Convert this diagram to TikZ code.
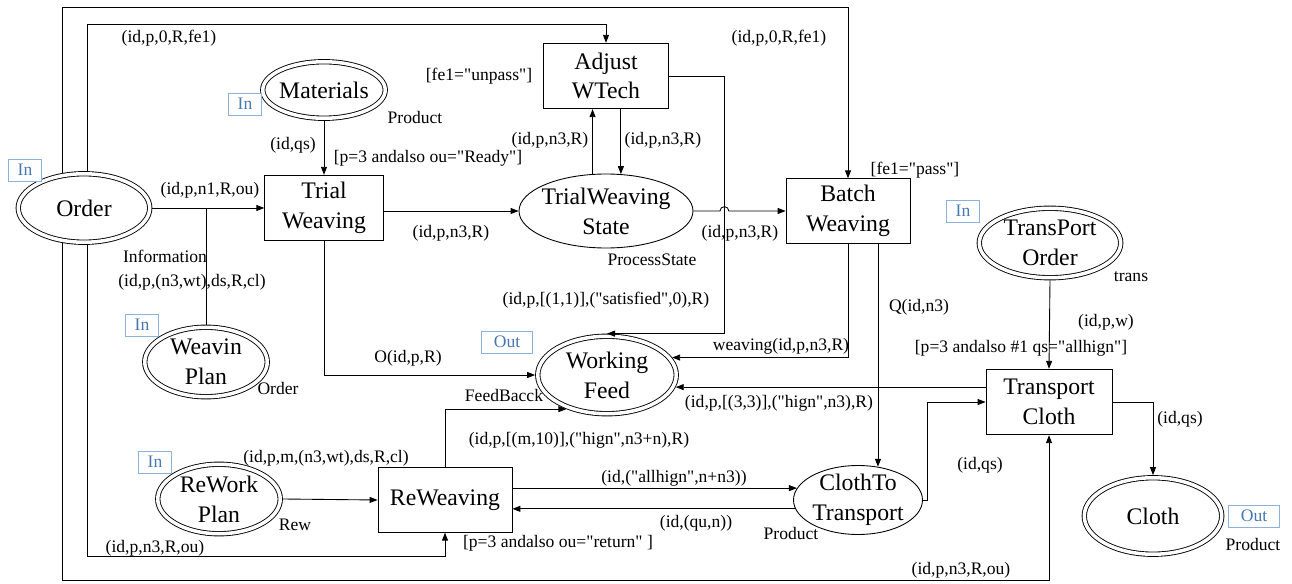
\documentclass[tikz,border=0pt]{standalone}
\usepackage{fontspec}
\setmainfont{Liberation Serif}[Ligatures=TeXOff]
\usepackage{tikz}
\usetikzlibrary{shapes.geometric,arrows.meta,calc}
\definecolor{portedge}{RGB}{140,178,220}
\definecolor{porttext}{RGB}{70,120,178}

\begin{document}
\begin{tikzpicture}[x=0.02cm,y=-0.02cm,line width=0.5pt,
		arc/.style={-{Triangle[length=1.6mm,width=1.2mm]}},
		transbox/.style={draw,rectangle,align=center,font=\fontsize{13.5}{17}\selectfont},
		placenode/.style={draw,ellipse,align=center,inner sep=-6pt,font=\fontsize{13.5}{17}\selectfont},
		portplace/.style={placenode,double,double distance=2pt,outer sep=1.5pt},
		portbox/.style={draw=portedge,text=porttext,fill=white,inner sep=0pt,minimum height=0.44cm,font=\fontsize{10}{12}\selectfont},
		lbl/.style={inner sep=0pt,font=\fontsize{10}{12}\selectfont}]
		\useasboundingbox (0,0) rectangle (1292,584);

		\node[portplace,minimum width=2.63cm,minimum height=1.37cm] (order) at (84,208) {Order};
		\node[portplace,minimum width=2.45cm,minimum height=1.13cm] (materials) at (324,90) {Materials};
		\node[portplace,minimum width=2.45cm,minimum height=1.39cm] (wplan) at (206,362) {Weavin\\Plan};
		\node[portplace,minimum width=2.45cm,minimum height=1.39cm] (rework) at (219,499) {ReWork\\Plan};
		\node[portplace,minimum width=2.77cm,minimum height=1.55cm] (wfeed) at (607,375) {Working\\Feed};
		\node[portplace,minimum width=2.83cm,minimum height=1.39cm] (tporder) at (1050,243) {TransPort\\Order};
		\node[portplace,minimum width=2.75cm,minimum height=1.53cm] (cloth) at (1153,516) {Cloth};
		\node[placenode,minimum width=3.48cm,minimum height=1.48cm] (twstate) at (606,211) {TrialWeaving\\State};
		\node[placenode,minimum width=2.58cm,minimum height=1.38cm] (clothto) at (858,500) {ClothTo\\Transport};

		\node[transbox,minimum width=2.37cm,minimum height=1.31cm] (trialw) at (324,208) {Trial\\Weaving};
		\node[transbox,minimum width=2.5cm,minimum height=1.31cm] (adjust) at (606,76) {Adjust\\WTech};
		\node[transbox,minimum width=2.48cm,minimum height=1.29cm] (batch) at (848,211) {Batch\\Weaving};
		\node[transbox,minimum width=2.52cm,minimum height=1.31cm] (tcloth) at (1049,402) {Transport\\Cloth};
		\node[transbox,minimum width=2.68cm,minimum height=1.29cm] (reweav) at (445,500) {ReWeaving};

		\foreach \n/\x/\y in {a/25/170, b/245/104, c/142/325, d/155/462, e/963/211}
			\node[portbox,minimum width=0.66cm] (in\n) at (\x,\y) {In};
		\foreach \n/\x/\y in {a/507/342, b/1254/516}
			\node[portbox,minimum width=1.02cm] (out\n) at (\x,\y) {Out};

		\coordinate (outtop) at (0,7);
		\coordinate (intop) at (0,24);
		\coordinate (inbot) at (0,556);
		\coordinate (outbot) at (0,580);

		\draw[arc] (order.121) -- (order.121 |- outtop) -| (batch.north);
		\draw[arc] (order.84) -- (order.84 |- intop) -| (adjust.north);
		\draw[arc] (order.239) -- (order.239 |- outbot) -| (tcloth.south);
		\draw[arc] (order.276) -- (order.276 |- inbot) -| (reweav.south);

		\draw[arc] (order.east) -- (trialw.west);
		\draw (wplan.north) -- (wplan.north |- order.east);
		\draw[arc] (materials.south) -- (trialw.north);
		\draw[arc] (trialw.east |- twstate.west) -- (twstate.west);
		\draw[arc] (twstate.110) -- (twstate.110 |- adjust.south);
		\draw[arc] (twstate.68 |- adjust.south) -- (twstate.68);
		\draw[arc] (adjust.east) -| ($(wfeed.north)+(117,0)$) -- (wfeed.north);
		\draw[arc] (twstate.east) -- ($(twstate.east -| wfeed.north)+(113,0)$) arc[start angle=180,end angle=0,radius=2.5pt] -- (batch.west |- twstate.east);
		\draw[arc] (trialw.south) |- (wfeed.west);
		\draw[arc] (batch.south) |- (wfeed.15);
		\draw[arc] (batch.south -| clothto.59) -- (clothto.59);
		\draw[arc] (tcloth.west |- wfeed.-10) -- (wfeed.-10);
		\draw[arc] (tporder.south) -- (tcloth.north);
		\draw[arc] (tcloth.east) -| (cloth.north);
		\draw[arc] (clothto.east) -- ++(5,0) |- (tcloth.west);
		\draw[arc] (reweav.east |- clothto.169) -- (clothto.169);
		\draw[arc] (clothto.188) -- (reweav.east |- clothto.188);
		\draw[arc] (rework.east) -- (reweav.west);
		\draw[arc] (reweav.north) |- (wfeed.220);

		\node[lbl] (l1) at (169,38) {(id,p,0,R,fe1)};
		\node[lbl] (l2) at (779,38) {(id,p,0,R,fe1)};
		\node[lbl] (l3) at (479,76) {[fe1="unpass"]};
		\node[lbl] (l4) at (415,117) {Product};
		\node[lbl] (l5) at (293,145) {(id,qs)};
		\node[lbl] (l6) at (428,158) {[p=3 andalso ou="Ready"]};
		\node[lbl] (l7) at (550,140) {(id,p,n3,R)};
		\node[lbl] (l8) at (663,140) {(id,p,n3,R)};
		\node[lbl] (l9) at (915,170) {[fe1="pass"]};
		\node[lbl] (l10) at (210,190) {(id,p,n1,R,ou)};
		\node[lbl] (l11) at (165,256) {Information};
		\node[lbl] (l12) at (192,282) {(id,p,(n3,wt),ds,R,cl)};
		\node[lbl] (l13) at (278,388) {Order};
		\node[lbl] (l14) at (408,358) {O(id,p,R)};
		\node[lbl] (l15) at (451,233) {(id,p,n3,R)};
		\node[lbl] (l16) at (652,260) {ProcessState};
		\node[lbl] (l17) at (740,233) {(id,p,n3,R)};
		\node[lbl] (l18) at (606,300) {(id,p,[(1,1)],("satisfied",0),R)};
		\node[lbl] (l19) at (781,346) {weaving(id,p,n3,R)};
		\node[lbl] (l20) at (919,307) {Q(id,n3)};
		\node[lbl] (l21) at (1131,277) {trans};
		\node[lbl] (l22) at (1106,322) {(id,p,w)};
		\node[lbl] (l23) at (1021,348) {[p=3 andalso \#1 qs="allhign"]};
		\node[lbl] (l24) at (779,403) {(id,p,[(3,3)],("hign",n3),R)};
		\node[lbl] (l25) at (504,395) {FeedBacck};
		\node[lbl] (l26) at (579,440) {(id,p,[(m,10)],("hign",n3+n),R)};
		\node[lbl] (l27) at (674,478) {(id,("allhign",n+n3))};
		\node[lbl] (l28) at (696,523) {(id,(qu,n))};
		\node[lbl] (l29) at (791,533) {Product};
		\node[lbl] (l30) at (558,543) {[p=3 andalso ou="return" ]};
		\node[lbl] (l31) at (326,458) {(id,p,m,(n3,wt),ds,R,cl)};
		\node[lbl] (l32) at (295,525) {Rew};
		\node[lbl] (l33) at (155,548) {(id,p,n3,R,ou)};
		\node[lbl] (l34) at (1180,419) {(id,qs)};
		\node[lbl] (l35) at (980,465) {(id,qs)};
		\node[lbl] (l36) at (961,570) {(id,p,n3,R,ou)};
		\node[lbl] (l37) at (1253,544) {Product};
	\end{tikzpicture}
\end{document}
